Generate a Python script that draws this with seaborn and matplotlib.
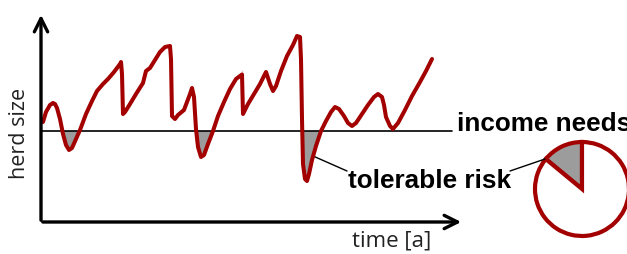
import matplotlib.pyplot as plt
import seaborn as sns
import pandas as pd
import numpy as np

# herd size over time (arbitrary units)
time = [2, 5, 9, 12, 14, 16, 19, 22, 25, 28, 31, 35, 39, 45, 51, 56, 62, 67, 73, 79, 80,
        81, 82, 84, 89, 95, 102, 105, 109, 114, 119, 124, 129, 130, 131, 134, 137, 143,
        149, 151, 153, 155, 157, 160, 163, 167, 172, 177, 183, 189, 195, 201, 201, 202,
        207, 213, 219, 225, 229, 232, 235, 240, 246, 252, 256, 259, 260, 261, 262, 264,
        266, 268, 271, 275, 280, 285, 290, 294, 298, 303, 307, 311, 315, 321, 327, 333,
        337, 341, 343, 345, 349, 352, 357, 364, 371, 379, 385, 391]
herd = [100, 110, 117, 119, 118, 114, 103, 88, 77, 72, 74, 83, 92, 108, 121, 131, 138, 143,
        150, 158, 160, 148, 108, 110, 118, 128, 139, 151, 154, 162, 170, 175, 176, 163,
        106, 103, 107, 112, 128, 134, 125, 93, 75, 65, 67, 78, 91, 106, 120, 133, 143,
        152, 143, 108, 118, 128, 138, 150, 138, 131, 136, 151, 166, 177, 186, 185, 163,
        103, 58, 43, 41, 48, 62, 76, 91, 101, 110, 115, 113, 106, 99, 96, 99, 108, 117,
        125, 128, 125, 117, 105, 96, 93, 99, 112, 126, 140, 151, 163]
income_needs = 91

# share of years below the income needs
risk_share = [14, 86]

red = '#a30000'

sns.set_style('white')
fig = plt.figure(figsize=(6.27, 2.55), dpi=100)
ax = fig.add_axes([0, 0, 1, 1])

df = pd.DataFrame({'time': time, 'herd': herd})
t = np.array(time, dtype=float)
h = np.array(herd, dtype=float)
ax.fill_between(t, h, income_needs, where=h < income_needs, interpolate=True,
                color='#9c9c9c', lw=0, zorder=1)
ax.plot([0, 411], [income_needs, income_needs], color='black', lw=1.2, zorder=2)
sns.lineplot(data=df, x='time', y='herd', sort=False, color=red, lw=2.9, ax=ax, zorder=3,
             solid_joinstyle='round', solid_capstyle='round')

# axes with arrow heads
ax.annotate('', xy=(0, 210), xytext=(0, -1),
            arrowprops=dict(arrowstyle='->', lw=2.4, color='black', mutation_scale=24))
ax.annotate('', xy=(423, 0), xytext=(-1, 0),
            arrowprops=dict(arrowstyle='->', lw=2.4, color='black', mutation_scale=24))

ax.text(-21, 90, 'herd size', rotation=90, ha='center', va='center',
        fontsize=15.5, family='Open Sans', color='#222222')
ax.text(351, -18, 'time [a]', ha='center', va='center',
        fontsize=16, family='Open Sans', color='#222222')
ax.text(416, 99, 'income needs', ha='left', va='center',
        fontsize=18.8, fontweight='bold', family='Liberation Sans', color='black')
ax.text(307, 42, 'tolerable risk', ha='left', va='center',
        fontsize=18.8, fontweight='bold', family='Liberation Sans', color='black')

# leader lines
ax.plot([272, 306], [66, 51], color='black', lw=1)
ax.plot([469, 504], [51, 63], color='black', lw=1)

# risk pie
ax.pie(risk_share, colors=['#9c9c9c', 'white'], startangle=90, counterclock=True,
       center=(541, 33), radius=47, frame=True,
       wedgeprops=dict(edgecolor=red, linewidth=3))

ax.set_xlim(-41, 586)
ax.set_ylim(-32, 223)
ax.set_aspect('auto')
ax.axis('off')

fig.savefig('out.png', dpi=100)
